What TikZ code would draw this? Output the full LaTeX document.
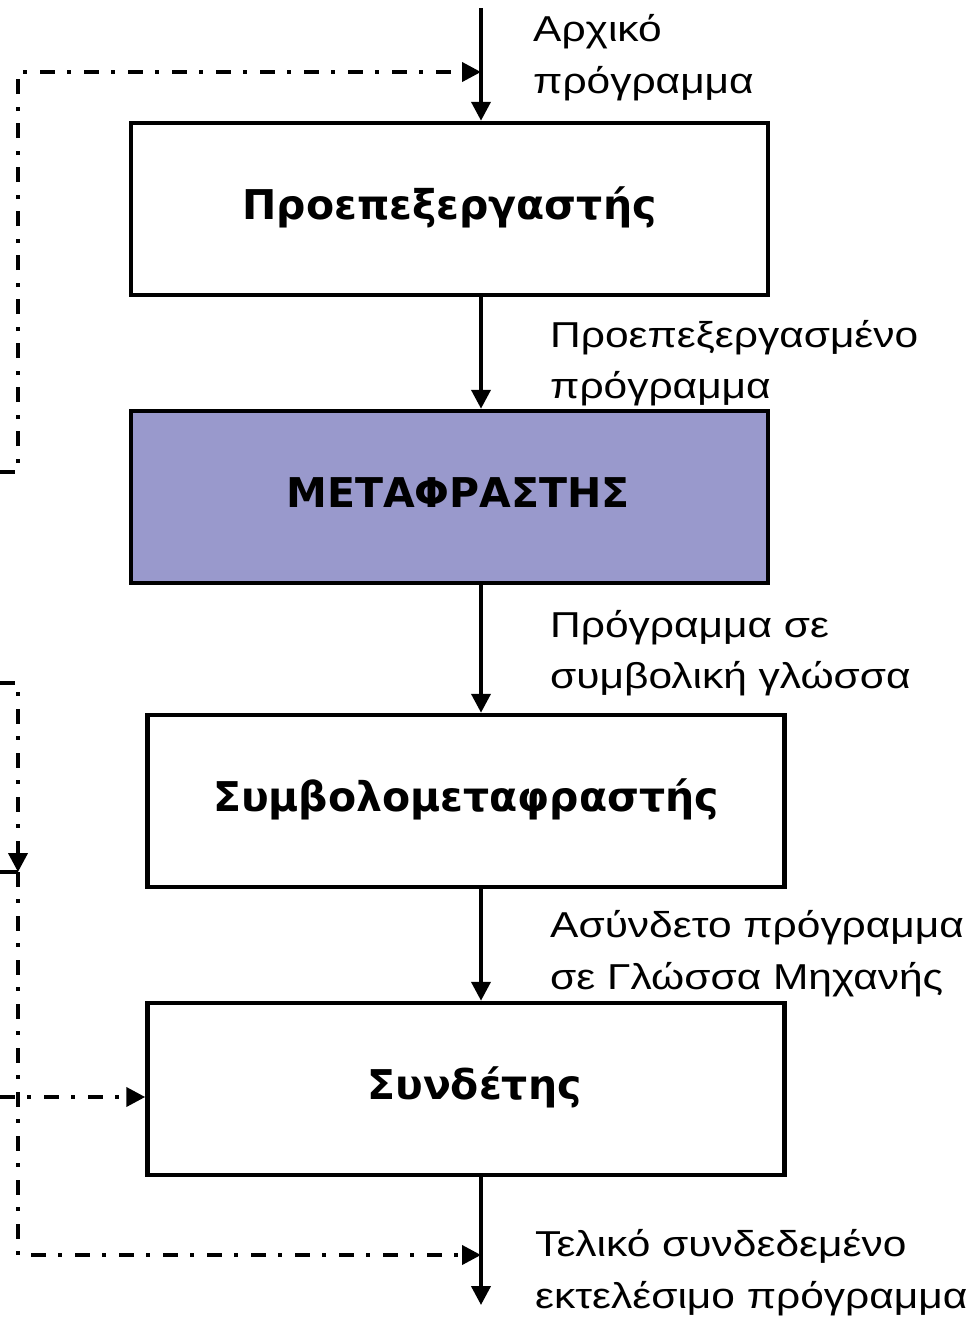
\documentclass[tikz,border=0pt]{standalone}
\usepackage{fontspec}
\setmainfont[FakeStretch=1.18]{Liberation Sans}
\newfontfamily\boldfam{DejaVu Sans Bold}
\usetikzlibrary{arrows.meta}
\definecolor{boxblue}{RGB}{153,153,204}
\tikzset{
  procbox/.style={draw=black, line width=4.5pt, minimum width=637pt, minimum height=172pt, inner sep=0pt, text height=28pt, text depth=8pt, font=\boldfam\fontsize{41}{44}\selectfont},
  flow/.style={line width=4pt, -{Triangle[width=19pt,length=19pt]}},
  ctrl/.style={line width=4pt, dash pattern=on 15pt off 12pt on 4pt off 13pt, -{Triangle[width=19pt,length=19pt]}},
  stub/.style={line width=4pt},
  lbl/.style={anchor=base west, inner sep=0pt, font=\fontsize{36}{40}\selectfont}
}
\begin{document}
\begin{tikzpicture}[x=1pt,y=-1pt]
\useasboundingbox (0,0) rectangle (973,1320);
\clip (0,0) rectangle (973,1320);
% boxes
\node[procbox] (pre) at (449.5,209) {Προεπεξεργαστής};
\node[procbox, fill=boxblue] (comp) at (449.5,497) {\hspace*{17pt}ΜΕΤΑΦΡΑΣΤΗΣ};
\node[procbox] (asm) at (466,801) {Συμβολομεταφραστής};
\node[procbox] (link) at (466,1089) {\hspace*{17pt}Συνδέτης};
% main flow coordinates
\coordinate (top) at (481,8);
\coordinate (in1) at (481,72);
\coordinate (out) at (481,1305);
\coordinate (j5) at (481,1255);
\draw[flow] (top) -- (top |- pre.north);
\draw[flow] (top |- pre.south) -- (top |- comp.north);
\draw[flow] (top |- comp.south) -- (top |- asm.north);
\draw[flow] (top |- asm.south) -- (top |- link.north);
\draw[flow] (top |- link.south) -- (out);
% control (dash-dot) lines on the left
\coordinate (a0) at (0,472);
\coordinate (a1) at (18,472);
\coordinate (a2) at (18,72);
\draw[ctrl] (a0) -- (a1) -- (a2) -- (in1);
\coordinate (b0) at (0,683);
\coordinate (b1) at (18,683);
\coordinate (b2) at (18,872);
\draw[ctrl] (b0) -- (b1) -- (b2);
\coordinate (c0) at (0,872);
\draw[stub] (c0) -- (b2);
\coordinate (d1) at (18,1255);
\draw[ctrl] (b2) -- (d1) -- (j5);
\coordinate (e0) at (0,1097);
\draw[ctrl] (e0) -- (link.west |- e0);
% labels
\node[lbl] (l1a) at (533,41) {Αρχικό};
\node[lbl] (l1b) at (533,93) {πρόγραμμα};
\node[lbl] (l2a) at (550,347) {Προεπεξεργασμένο};
\node[lbl] (l2b) at (550,398) {πρόγραμμα};
\node[lbl] (l3a) at (550,637) {Πρόγραμμα σε};
\node[lbl] (l3b) at (550,688) {συμβολική γλώσσα};
\node[lbl] (l4a) at (550,937) {Ασύνδετο πρόγραμμα};
\node[lbl] (l4b) at (550,989) {σε Γλώσσα Μηχανής};
\node[lbl] (l5a) at (535,1256) {Τελικό συνδεδεμένο};
\node[lbl] (l5b) at (535,1308) {εκτελέσιμο πρόγραμμα};
\end{tikzpicture}
\end{document}
